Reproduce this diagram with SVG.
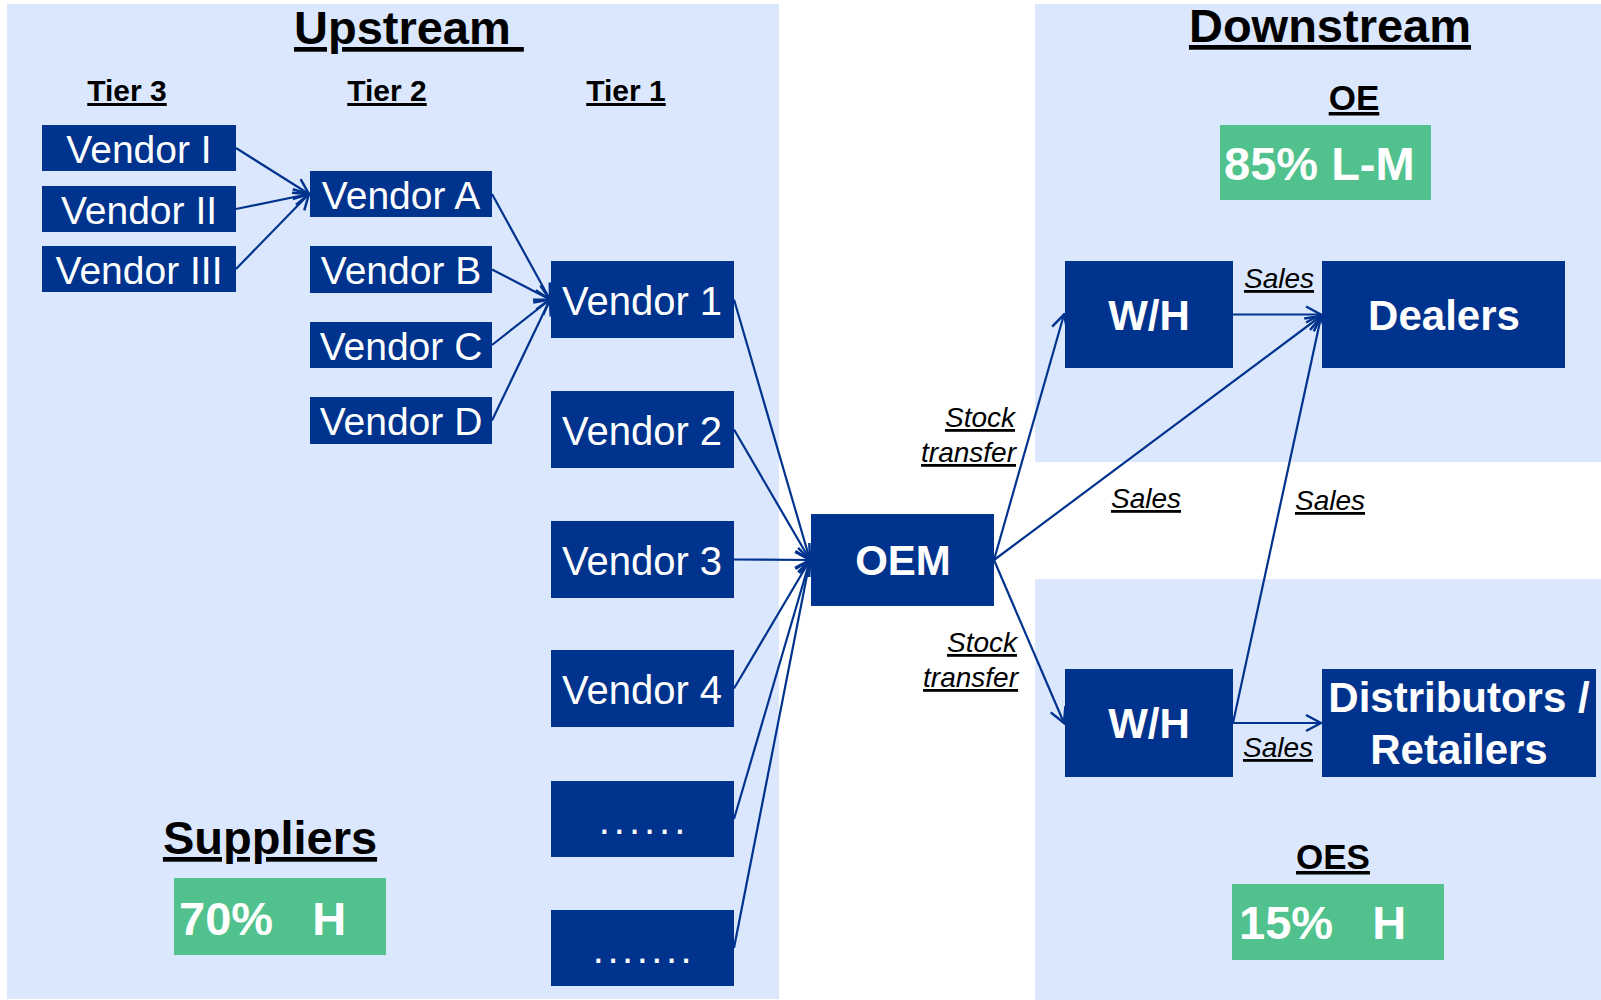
<svg xmlns="http://www.w3.org/2000/svg" width="1601" height="1000" viewBox="0 0 1601 1000">
<style>
.panel{fill:#DBE7FC}
.box{fill:#00338D}
.green{fill:#51C28D}
.vt{font-family:"Liberation Sans",Arial,sans-serif;fill:#fff;text-anchor:middle}
.bt{font-family:"Liberation Sans",Arial,sans-serif;font-weight:bold;fill:#fff;text-anchor:middle;font-size:42px}
.pct{font-family:"Liberation Sans",Arial,sans-serif;font-weight:bold;fill:#fff;font-size:47px}
.hd{font-family:"Liberation Sans",Arial,sans-serif;font-weight:bold;fill:#000;text-anchor:middle;text-decoration:underline}
.lab{font-family:"Liberation Sans",Arial,sans-serif;font-style:italic;fill:#000;font-size:28px;text-decoration:underline}
.con line{stroke:#00338D;stroke-width:2.2;marker-end:url(#arr)}
</style>
<defs>
<marker id="arr" viewBox="0 0 20 20" refX="18" refY="10" markerWidth="20" markerHeight="20" markerUnits="userSpaceOnUse" orient="auto">
<path d="M3,2 L18,10 L3,18" fill="none" stroke="#00338D" stroke-width="2.5"/>
</marker>
</defs>
<rect width="1601" height="1000" fill="#fff"/>
<g id="panels">
<rect class="panel" x="7" y="4" width="772" height="995"/>
<rect class="panel" x="1035" y="4" width="566" height="458"/>
<rect class="panel" x="1035" y="579" width="566" height="421"/>
</g>
<g id="headings">
<text class="hd" x="294" y="44" font-size="47" style="text-anchor:start" xml:space="preserve">Upstream </text>
<text class="hd" x="1330" y="42" font-size="47">Downstream</text>
<text class="hd" x="127" y="101" font-size="30">Tier 3</text>
<text class="hd" x="387" y="101" font-size="30">Tier 2</text>
<text class="hd" x="626" y="101" font-size="30">Tier 1</text>
<text class="hd" x="1354" y="110" font-size="35">OE</text>
<text class="hd" x="1333" y="869" font-size="35">OES</text>
<text class="hd" x="270" y="854" font-size="47">Suppliers</text>
</g>
<g id="share-oe"><rect class="green" x="1220" y="125" width="211" height="75"/><text class="pct" x="1224" y="180">85% L-M</text></g>
<g id="share-oes"><rect class="green" x="1232" y="884" width="212" height="76"/><text class="pct" x="1239" y="939" xml:space="preserve">15%   H</text></g>
<g id="share-suppliers"><rect class="green" x="174" y="878" width="212" height="77"/><text class="pct" x="179" y="935" xml:space="preserve">70%   H</text></g>
<g id="connectors" class="con">
<line x1="236" y1="148" x2="309" y2="194"/>
<line x1="236" y1="209" x2="309" y2="194"/>
<line x1="236" y1="269" x2="309" y2="194"/>
<line x1="492" y1="194" x2="550" y2="299.5"/>
<line x1="492" y1="269.5" x2="550" y2="299.5"/>
<line x1="492" y1="345" x2="550" y2="299.5"/>
<line x1="492" y1="420.5" x2="550" y2="299.5"/>
<line x1="734" y1="299.5" x2="810" y2="560"/>
<line x1="734" y1="429.5" x2="810" y2="560"/>
<line x1="734" y1="559.5" x2="810" y2="560"/>
<line x1="734" y1="688.5" x2="810" y2="560"/>
<line x1="734" y1="819" x2="810" y2="560"/>
<line x1="734" y1="948" x2="810" y2="560"/>
<line x1="994" y1="560" x2="1064" y2="314.5"/>
<line x1="994" y1="560" x2="1321" y2="316"/>
<line x1="994" y1="560" x2="1064" y2="723"/>
<line x1="1233" y1="314.5" x2="1321" y2="314.5"/>
<line x1="1233" y1="723" x2="1321" y2="317"/>
<line x1="1233" y1="723" x2="1321" y2="723"/>
</g>
<g id="vendor-i"><rect class="box" x="42" y="125" width="194" height="46"/><text class="vt" x="139" y="163" font-size="39">Vendor I</text></g>
<g id="vendor-ii"><rect class="box" x="42" y="186" width="194" height="46"/><text class="vt" x="139" y="224" font-size="39">Vendor II</text></g>
<g id="vendor-iii"><rect class="box" x="42" y="246" width="194" height="46"/><text class="vt" x="139" y="284" font-size="39">Vendor III</text></g>
<g id="vendor-a"><rect class="box" x="310" y="171" width="182" height="46"/><text class="vt" x="401" y="209" font-size="39">Vendor A</text></g>
<g id="vendor-b"><rect class="box" x="310" y="246" width="182" height="47"/><text class="vt" x="401" y="284" font-size="39">Vendor B</text></g>
<g id="vendor-c"><rect class="box" x="310" y="322" width="182" height="46"/><text class="vt" x="401" y="360" font-size="39">Vendor C</text></g>
<g id="vendor-d"><rect class="box" x="310" y="397" width="182" height="47"/><text class="vt" x="401" y="435" font-size="39">Vendor D</text></g>
<g id="vendor-1"><rect class="box" x="551" y="261" width="183" height="77"/><text class="vt" x="642" y="315" font-size="40">Vendor 1</text></g>
<g id="vendor-2"><rect class="box" x="551" y="391" width="183" height="77"/><text class="vt" x="642" y="445" font-size="40">Vendor 2</text></g>
<g id="vendor-3"><rect class="box" x="551" y="521" width="183" height="77"/><text class="vt" x="642" y="575" font-size="40">Vendor 3</text></g>
<g id="vendor-4"><rect class="box" x="551" y="650" width="183" height="77"/><text class="vt" x="642" y="704" font-size="40">Vendor 4</text></g>
<g id="vendor-more1"><rect class="box" x="551" y="781" width="183" height="76"/><text class="vt" x="644" y="834" font-size="40" letter-spacing="4">......</text></g>
<g id="vendor-more2"><rect class="box" x="551" y="910" width="183" height="76"/><text class="vt" x="644" y="963" font-size="40" letter-spacing="3.5">.......</text></g>
<g id="oem"><rect class="box" x="811" y="514" width="183" height="92"/><text class="bt" x="903" y="575">OEM</text></g>
<g id="wh-top"><rect class="box" x="1065" y="261" width="168" height="107"/><text class="bt" x="1149" y="330">W/H</text></g>
<g id="dealers"><rect class="box" x="1322" y="261" width="243" height="107"/><text class="bt" x="1444" y="330">Dealers</text></g>
<g id="wh-bottom"><rect class="box" x="1065" y="669" width="168" height="108"/><text class="bt" x="1149" y="738">W/H</text></g>
<g id="distributors"><rect class="box" x="1322" y="669" width="274" height="108"/><text class="bt" x="1459" y="712">Distributors /</text><text class="bt" x="1459" y="764">Retailers</text></g>
<g id="labels">
<text class="lab" x="1279" y="288" text-anchor="middle">Sales</text>
<text class="lab" x="1015" y="427" text-anchor="end">Stock</text>
<text class="lab" x="1016" y="462" text-anchor="end">transfer</text>
<text class="lab" x="1146" y="508" text-anchor="middle">Sales</text>
<text class="lab" x="1330" y="510" text-anchor="middle">Sales</text>
<text class="lab" x="1017" y="652" text-anchor="end">Stock</text>
<text class="lab" x="1018" y="687" text-anchor="end">transfer</text>
<text class="lab" x="1278" y="757" text-anchor="middle">Sales</text>
</g>
</svg>
